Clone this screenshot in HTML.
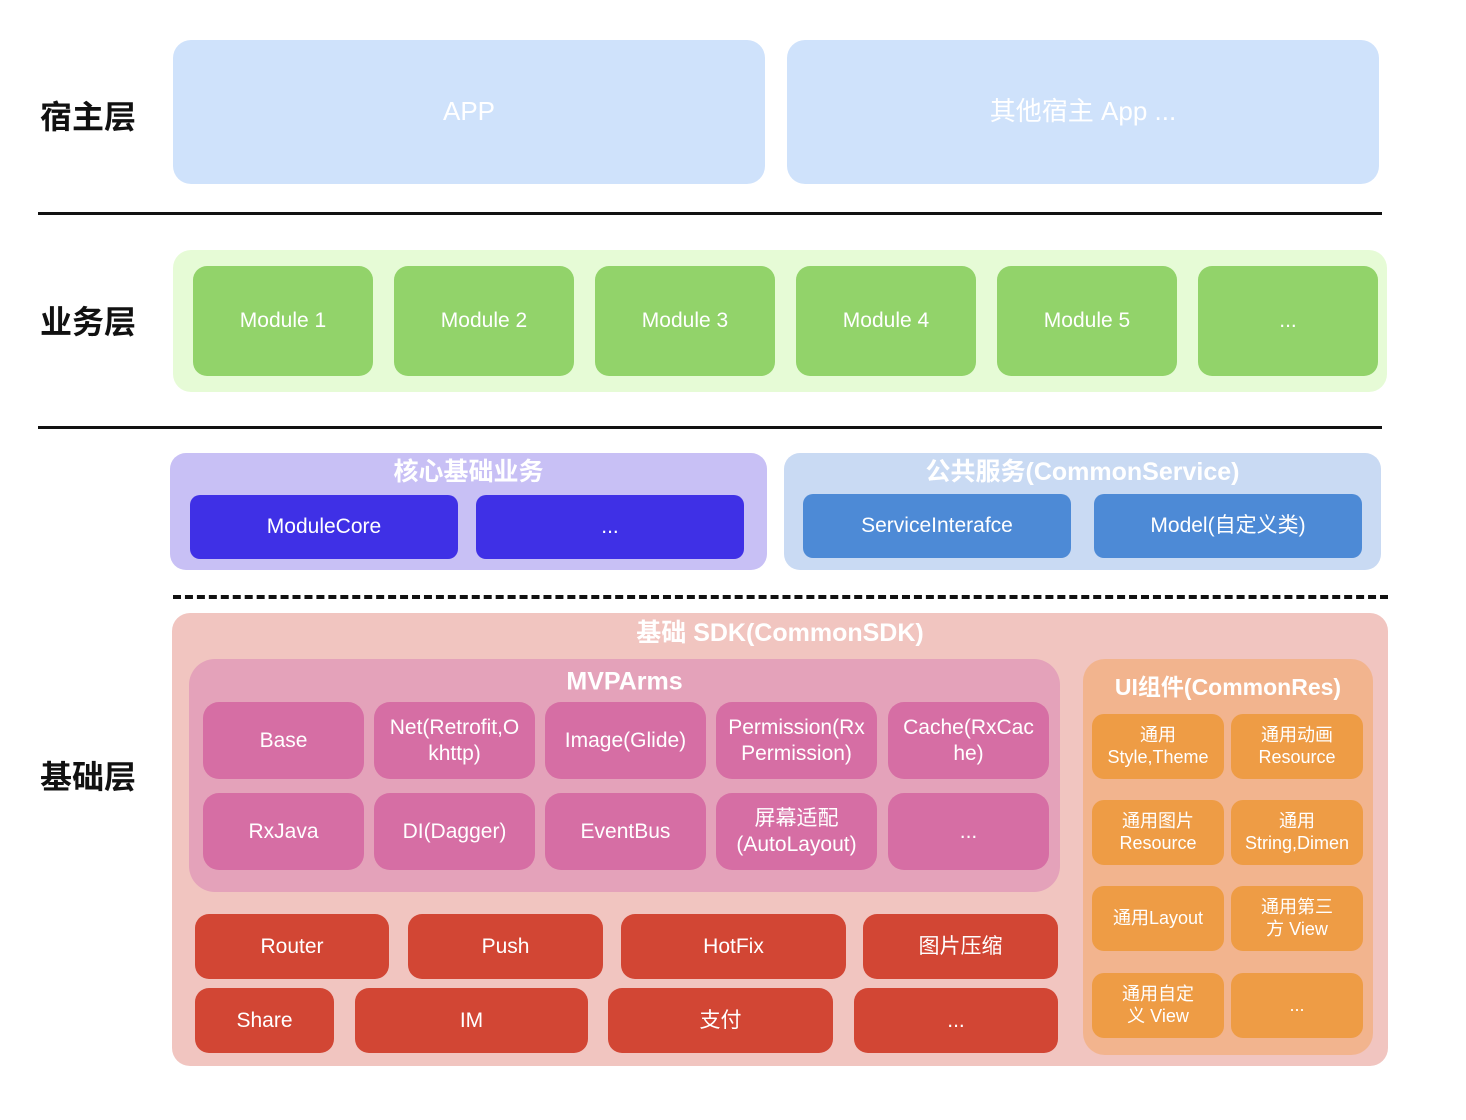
<!DOCTYPE html>
<html><head><meta charset="utf-8"><style>
body{margin:0;width:1466px;height:1120px;background:#fff;position:relative;overflow:hidden;font-family:"Liberation Sans","Noto Sans CJK SC",sans-serif}
div{position:absolute;box-sizing:border-box}
.b{display:flex;align-items:center;justify-content:center;text-align:center;color:#fff;font-size:21px;line-height:1.2}
.lab{left:40px;font-size:32px;font-weight:bold;color:#111;transform:translateY(-50%)}
.t{color:#fff;font-weight:bold;font-size:25px;text-align:center;transform:translateY(-50%)}
.m{background:#92d36a;border-radius:14px;top:266px;height:110px;width:180px;font-size:21px}
.p{background:#d66ea4;border-radius:16px;width:161px;height:77px}
.r{background:#d24634;border-radius:14px;height:65px}
.o{background:#ee9c45;border-radius:12px;width:132px;height:65px;font-size:18px}
</style></head><body>
<div class="lab" style="top:115px">宿主层</div>
<div class="lab" style="top:320px">业务层</div>
<div class="lab" style="top:775px">基础层</div>

<div class="b" style="left:173px;top:40px;width:592px;height:144px;background:#cfe2fb;border-radius:18px;font-size:26px">APP</div>
<div class="b" style="left:787px;top:40px;width:592px;height:144px;background:#cfe2fb;border-radius:18px;font-size:26px">其他宿主 App ...</div>
<div style="left:38px;top:212px;width:1344px;height:3px;background:#111"></div>

<div style="left:173px;top:250px;width:1214px;height:142px;background:#e6fbd6;border-radius:18px"></div>
<div class="b m" style="left:193px">Module 1</div>
<div class="b m" style="left:394px">Module 2</div>
<div class="b m" style="left:595px">Module 3</div>
<div class="b m" style="left:796px">Module 4</div>
<div class="b m" style="left:997px">Module 5</div>
<div class="b m" style="left:1198px">...</div>
<div style="left:38px;top:426px;width:1344px;height:3px;background:#111"></div>

<div style="left:170px;top:453px;width:597px;height:117px;background:#c8c0f5;border-radius:16px"></div>
<div class="t" style="left:170px;width:597px;top:470px">核心基础业务</div>
<div class="b" style="left:190px;top:495px;width:268px;height:64px;background:#3f30e6;border-radius:10px">ModuleCore</div>
<div class="b" style="left:476px;top:495px;width:268px;height:64px;background:#3f30e6;border-radius:10px">...</div>
<div style="left:784px;top:453px;width:597px;height:117px;background:#c9daf3;border-radius:16px"></div>
<div class="t" style="left:784px;width:597px;top:470px">公共服务(CommonService)</div>
<div class="b" style="left:803px;top:494px;width:268px;height:64px;background:#4d8ad6;border-radius:10px">ServiceInterafce</div>
<div class="b" style="left:1094px;top:494px;width:268px;height:64px;background:#4d8ad6;border-radius:10px">Model(自定义类)</div>

<div style="left:173px;top:595px;width:1215px;height:0;border-top:4px dashed #111"></div>

<div style="left:172px;top:613px;width:1216px;height:453px;background:#f1c5c0;border-radius:18px"></div>
<div class="t" style="left:172px;width:1216px;top:631px">基础 SDK(CommonSDK)</div>
<div style="left:189px;top:659px;width:871px;height:233px;background:#e4a2ba;border-radius:26px"></div>
<div class="t" style="left:189px;width:871px;top:682px">MVPArms</div>
<div class="b p" style="left:203px;top:702px">Base</div>
<div class="b p" style="left:374px;top:702px">Net(Retrofit,O khttp)</div>
<div class="b p" style="left:545px;top:702px">Image(Glide)</div>
<div class="b p" style="left:716px;top:702px">Permission(Rx Permission)</div>
<div class="b p" style="left:888px;top:702px">Cache(RxCac he)</div>
<div class="b p" style="left:203px;top:793px">RxJava</div>
<div class="b p" style="left:374px;top:793px">DI(Dagger)</div>
<div class="b p" style="left:545px;top:793px">EventBus</div>
<div class="b p" style="left:716px;top:793px">屏幕适配<br>(AutoLayout)</div>
<div class="b p" style="left:888px;top:793px">...</div>

<div class="b r" style="left:195px;top:914px;width:194px">Router</div>
<div class="b r" style="left:408px;top:914px;width:195px">Push</div>
<div class="b r" style="left:621px;top:914px;width:225px">HotFix</div>
<div class="b r" style="left:863px;top:914px;width:195px">图片压缩</div>
<div class="b r" style="left:195px;top:988px;width:139px">Share</div>
<div class="b r" style="left:355px;top:988px;width:233px">IM</div>
<div class="b r" style="left:608px;top:988px;width:225px">支付</div>
<div class="b r" style="left:854px;top:988px;width:204px">...</div>

<div style="left:1083px;top:659px;width:290px;height:396px;background:#f2b48e;border-radius:22px"></div>
<div class="t" style="left:1083px;width:290px;top:685px;font-size:23px">UI组件(CommonRes)</div>
<div class="b o" style="left:1092px;top:714px">通用<br>Style,Theme</div>
<div class="b o" style="left:1231px;top:714px">通用动画<br>Resource</div>
<div class="b o" style="left:1092px;top:800px">通用图片<br>Resource</div>
<div class="b o" style="left:1231px;top:800px">通用<br>String,Dimen</div>
<div class="b o" style="left:1092px;top:886px">通用Layout</div>
<div class="b o" style="left:1231px;top:886px">通用第三<br>方 View</div>
<div class="b o" style="left:1092px;top:973px">通用自定<br>义 View</div>
<div class="b o" style="left:1231px;top:973px">...</div>
</body></html>
